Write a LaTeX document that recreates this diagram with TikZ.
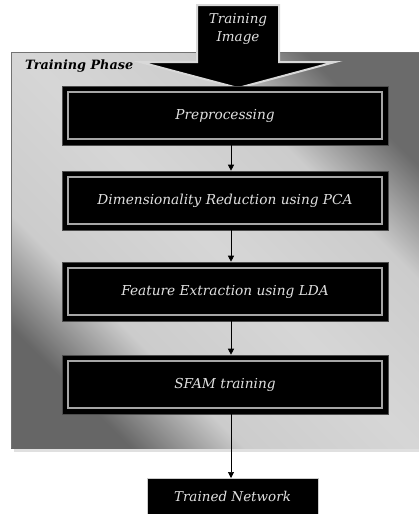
\documentclass[tikz,border=0pt]{standalone}
\usepackage{fontspec}
\setmainfont{DejaVu Serif}
\usetikzlibrary{arrows.meta}
\pgfdeclareverticalshading{panelsh}{100bp}{color(0bp)=(black!60); color(25bp)=(black!60); color(35bp)=(black!20); color(50bp)=(black!16); color(65bp)=(black!20); color(75bp)=(black!58); color(100bp)=(black!58)}
\tikzset{
  stagebox/.style={fill=black, draw=black!70, line width=0.6pt,
    minimum width=326pt, minimum height=59pt, inner sep=0pt,
    text=white!88!black, font=\fontsize{13.7}{15}\selectfont\itshape,
    path picture={\draw[black!35!white, line width=1.4pt]
      ([shift={(6pt,-6pt)}]path picture bounding box.north west) rectangle
      ([shift={(-6pt,6pt)}]path picture bounding box.south east);}},
  outbox/.style={fill=black, draw=black!20, line width=1pt,
    minimum width=171pt, minimum height=40pt, inner sep=0pt,
    text=white!88!black, font=\fontsize{13.5}{15}\selectfont\itshape},
  conn/.style={draw=black, line width=0.7pt, -{Triangle[width=6pt,length=6pt]}},
  bigarrow/.style={fill=black, draw=white!85!black, line width=2pt, line join=miter},
  phaselabel/.style={font=\fontsize{12.8}{14}\selectfont\bfseries\itshape, text=black, inner sep=0pt, anchor=west},
  arrowtext/.style={font=\fontsize{13.5}{18}\selectfont\itshape, text=white!88!black, align=center, inner sep=0pt},
  panelshade/.style={shading=panelsh, shading angle=-45}
}
\begin{document}
\begin{tikzpicture}[x=1pt,y=-1pt]
\clip (0,0) rectangle (419,514);
\useasboundingbox (0,0) rectangle (419,514);
\fill[white] (0,0) rectangle (419,514);
% panel shadow
\fill[black!12] (14,448) rectangle (425,452);
% panel
\shade[panelshade] (11,52) rectangle (425,448);
\draw[black!55, line width=0.6pt] (11,448) -- (11,52) -- (425,52);
\node[phaselabel] (phase) at (25,66) {Training Phase};
% big input arrow
\draw[bigarrow] (197,5) -- (279,5) -- (279,62) -- (335,62) -- (238,88) -- (140,62) -- (197,62) -- cycle;
\node[arrowtext] (img) at (238,29) {Training\\Image};
% stages
\node[stagebox] (b1) at (225,115.5) {Preprocessing};
\node[stagebox] (b2) at (225,200.5) {Dimensionality Reduction using PCA};
\node[stagebox] (b3) at (225,291.5) {Feature Extraction using LDA};
\node[stagebox] (b4) at (225,384.5) {SFAM training};
\node[outbox, anchor=north] (tn) at (232.5,478) {\raisebox{4pt}{Trained Network}};
% connectors
\draw[conn] ([xshift=6pt]b1.south) -- ([xshift=6pt]b2.north);
\draw[conn] ([xshift=6pt]b2.south) -- ([xshift=6pt]b3.north);
\draw[conn] ([xshift=6pt]b3.south) -- ([xshift=6pt]b4.north);
\draw[conn] ([xshift=6pt]b4.south) -- ([xshift=6pt]b4.south |- tn.north);
\end{tikzpicture}
\end{document}
